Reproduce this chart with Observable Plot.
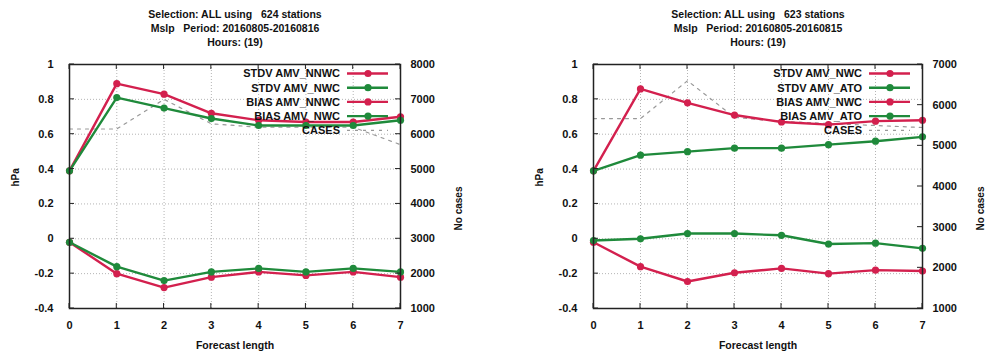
<!DOCTYPE html>
<html>
<head>
<meta charset="utf-8">
<script src="https://cdn.jsdelivr.net/npm/d3@7"></script>
<script src="https://cdn.jsdelivr.net/npm/@observablehq/plot@0.6"></script>
<style>
  body { margin: 0; background: #fff; }
  #wrap { display: flex; width: 987px; height: 354px; overflow: hidden; }
  #wrap svg { font-family: "Liberation Sans", Arial, sans-serif; font-weight: bold; }
</style>
</head>
<body>
<div id="wrap"></div>
<script>
// Forecast steps and left-axis ticks (hPa)
const steps = [0, 1, 2, 3, 4, 5, 6, 7];
const hpaTicks = [-0.4, -0.2, 0, 0.2, 0.4, 0.6, 0.8, 1];

// Left panel: 624 stations
const leftTitle = ["Selection: ALL using   624 stations", "Mslp   Period: 20160805-20160816", "Hours: (19)"];
const leftNames = ["STDV AMV_NNWC", "STDV AMV_NWC", "BIAS AMV_NNWC", "BIAS AMV_NWC"];
const leftStdvA = [0.39, 0.89, 0.83, 0.72, 0.68, 0.67, 0.67, 0.70];
const leftStdvB = [0.39, 0.81, 0.75, 0.69, 0.65, 0.65, 0.65, 0.68];
const leftBiasA = [-0.02, -0.20, -0.28, -0.22, -0.19, -0.21, -0.19, -0.22];
const leftBiasB = [-0.02, -0.16, -0.24, -0.19, -0.17, -0.19, -0.17, -0.19];
const leftCases = [6150, 6150, 7000, 6300, 6200, 6200, 6200, 5700];
const leftCaseTicks = [1000, 2000, 3000, 4000, 5000, 6000, 7000, 8000];

// Right panel: 623 stations
const rightTitle = ["Selection: ALL using   623 stations", "Mslp   Period: 20160805-20160815", "Hours: (19)"];
const rightNames = ["STDV AMV_NWC", "STDV AMV_ATO", "BIAS AMV_NWC", "BIAS AMV_ATO"];
const rightStdvA = [0.39, 0.86, 0.78, 0.71, 0.67, 0.655, 0.675, 0.68];
const rightStdvB = [0.39, 0.48, 0.50, 0.52, 0.52, 0.54, 0.56, 0.585];
const rightBiasA = [-0.02, -0.16, -0.245, -0.195, -0.17, -0.20, -0.18, -0.185];
const rightBiasB = [-0.01, 0.0, 0.03, 0.03, 0.02, -0.03, -0.025, -0.055];
const rightCases = [5670, 5670, 6600, 5700, 5600, 5550, 5500, 5450];
const rightCaseTicks = [1000, 2000, 3000, 4000, 5000, 6000, 7000];

const RED = "#d3204e";
const GREEN = "#1f8a3b";
const GREY = "#999999";

function panel({title, names, stdvA, stdvB, biasA, biasB, cases, caseTicks, width, marginLeft, marginRight}) {
  const cMin = caseTicks[0], cMax = caseTicks[caseTicks.length - 1];
  // cases share the hPa scale through a linear mapping onto [-0.4, 1]
  const toHpa = c => -0.4 + (c - cMin) / (cMax - cMin) * 1.4;
  const fromHpa = v => Math.round(cMin + (v + 0.4) / 1.4 * (cMax - cMin));
  const caseTickPos = caseTicks.map(toHpa);

  const series = [
    {name: names[0], values: stdvA, color: RED},
    {name: names[1], values: stdvB, color: GREEN},
    {name: names[2], values: biasA, color: RED},
    {name: names[3], values: biasB, color: GREEN}
  ];
  const rows = series.flatMap(s => s.values.map((v, i) => ({name: s.name, step: steps[i], value: v, color: s.color})));
  const caseRows = cases.map((c, i) => ({step: steps[i], cases: c}));

  // dotted grid at the major ticks
  const grid = {stroke: "#b4b4b4", strokeWidth: 1, strokeDasharray: "1,2"};
  const marks = [
    Plot.ruleX(steps, grid),
    Plot.ruleY(hpaTicks, grid),
    Plot.axisX(steps, {anchor: "bottom", tickSize: 0, tickPadding: 13, label: null, fontSize: 11}),
    Plot.axisY(hpaTicks, {anchor: "left", tickSize: 0, tickPadding: 16, label: null, fontSize: 11, tickFormat: v => String(v)}),
    Plot.axisY(caseTickPos, {anchor: "right", tickSize: 0, tickPadding: 10, label: null, fontSize: 11, tickFormat: v => String(fromHpa(v))}),
    Plot.line(caseRows, {x: "step", y: d => toHpa(d.cases), stroke: GREY, strokeWidth: 1.2, strokeDasharray: "3,5"}),
    Plot.line(rows, {x: "step", y: "value", z: "name", stroke: "color", strokeWidth: 2.4}),
    Plot.dot(rows, {x: "step", y: "value", fill: "color", r: 3.6}),
    Plot.frame({stroke: "#222", strokeWidth: 1.5})
  ];
  // title lines stacked above the frame
  title.forEach((t, i) => marks.push(Plot.text([t], {frameAnchor: "top", dy: -54 + 14.2 * i, fontSize: 10.5})));
  marks.push(Plot.text(["Forecast length"], {frameAnchor: "bottom", dy: 40, fontSize: 10.5}));
  marks.push(Plot.text(["hPa"], {frameAnchor: "left", dx: -54, rotate: -90, fontSize: 10}));
  marks.push(Plot.text(["No cases"], {frameAnchor: "right", dx: 58, rotate: -90, fontSize: 10}));

  const chart = Plot.plot({
    width, height: 354,
    marginTop: 64, marginBottom: 46, marginLeft, marginRight,
    x: {domain: [0, 7]},
    y: {domain: [-0.4, 1]},
    style: {background: "#fff", color: "#111", fontSize: "11px"},
    marks
  });

  const xs = chart.scale("x"), ys = chart.scale("y");
  const left = marginLeft, right = width - marginRight, top = 64, bottom = 354 - 46;

  // inward tick marks on all four sides of the frame
  const ticks = d3.select(chart).append("g").attr("stroke", "#222").attr("stroke-width", 1);
  steps.forEach(s => {
    const x = xs.apply(s);
    ticks.append("line").attr("x1", x).attr("x2", x).attr("y1", bottom).attr("y2", bottom - 5);
    ticks.append("line").attr("x1", x).attr("x2", x).attr("y1", top).attr("y2", top + 5);
  });
  hpaTicks.forEach(v => {
    const y = ys.apply(v);
    ticks.append("line").attr("x1", left).attr("x2", left + 5).attr("y1", y).attr("y2", y);
  });
  caseTickPos.forEach(v => {
    const y = ys.apply(v);
    ticks.append("line").attr("x1", right).attr("x2", right - 5).attr("y1", y).attr("y2", y);
  });

  // key in the top-right corner of the frame
  const key = d3.select(chart).append("g").attr("font-size", 11);
  const entries = series.map(s => ({name: s.name, color: s.color, dash: null, dot: true}))
    .concat([{name: "CASES", color: GREY, dash: "3,5", dot: false}]);
  entries.forEach((e, i) => {
    const y = top + 9.5 + 14.2 * i;
    key.append("text").attr("x", right - 60).attr("y", y).attr("dy", "0.35em")
      .attr("text-anchor", "end").attr("fill", "#111").text(e.name);
    key.append("line").attr("x1", right - 53).attr("x2", right - 12).attr("y1", y).attr("y2", y)
      .attr("stroke", e.color).attr("stroke-width", e.dot ? 2.4 : 1.2).attr("stroke-dasharray", e.dash);
    if (e.dot) key.append("circle").attr("cx", right - 32).attr("cy", y).attr("r", 3.6).attr("fill", e.color);
  });
  return chart;
}

const wrap = document.getElementById("wrap");
wrap.append(panel({
  title: leftTitle, names: leftNames,
  stdvA: leftStdvA, stdvB: leftStdvB, biasA: leftBiasA, biasB: leftBiasB,
  cases: leftCases, caseTicks: leftCaseTicks,
  width: 493, marginLeft: 69, marginRight: 93
}));
wrap.append(panel({
  title: rightTitle, names: rightNames,
  stdvA: rightStdvA, stdvB: rightStdvB, biasA: rightBiasA, biasB: rightBiasB,
  cases: rightCases, caseTicks: rightCaseTicks,
  width: 494, marginLeft: 100, marginRight: 65
}));
</script>
</body>
</html>
